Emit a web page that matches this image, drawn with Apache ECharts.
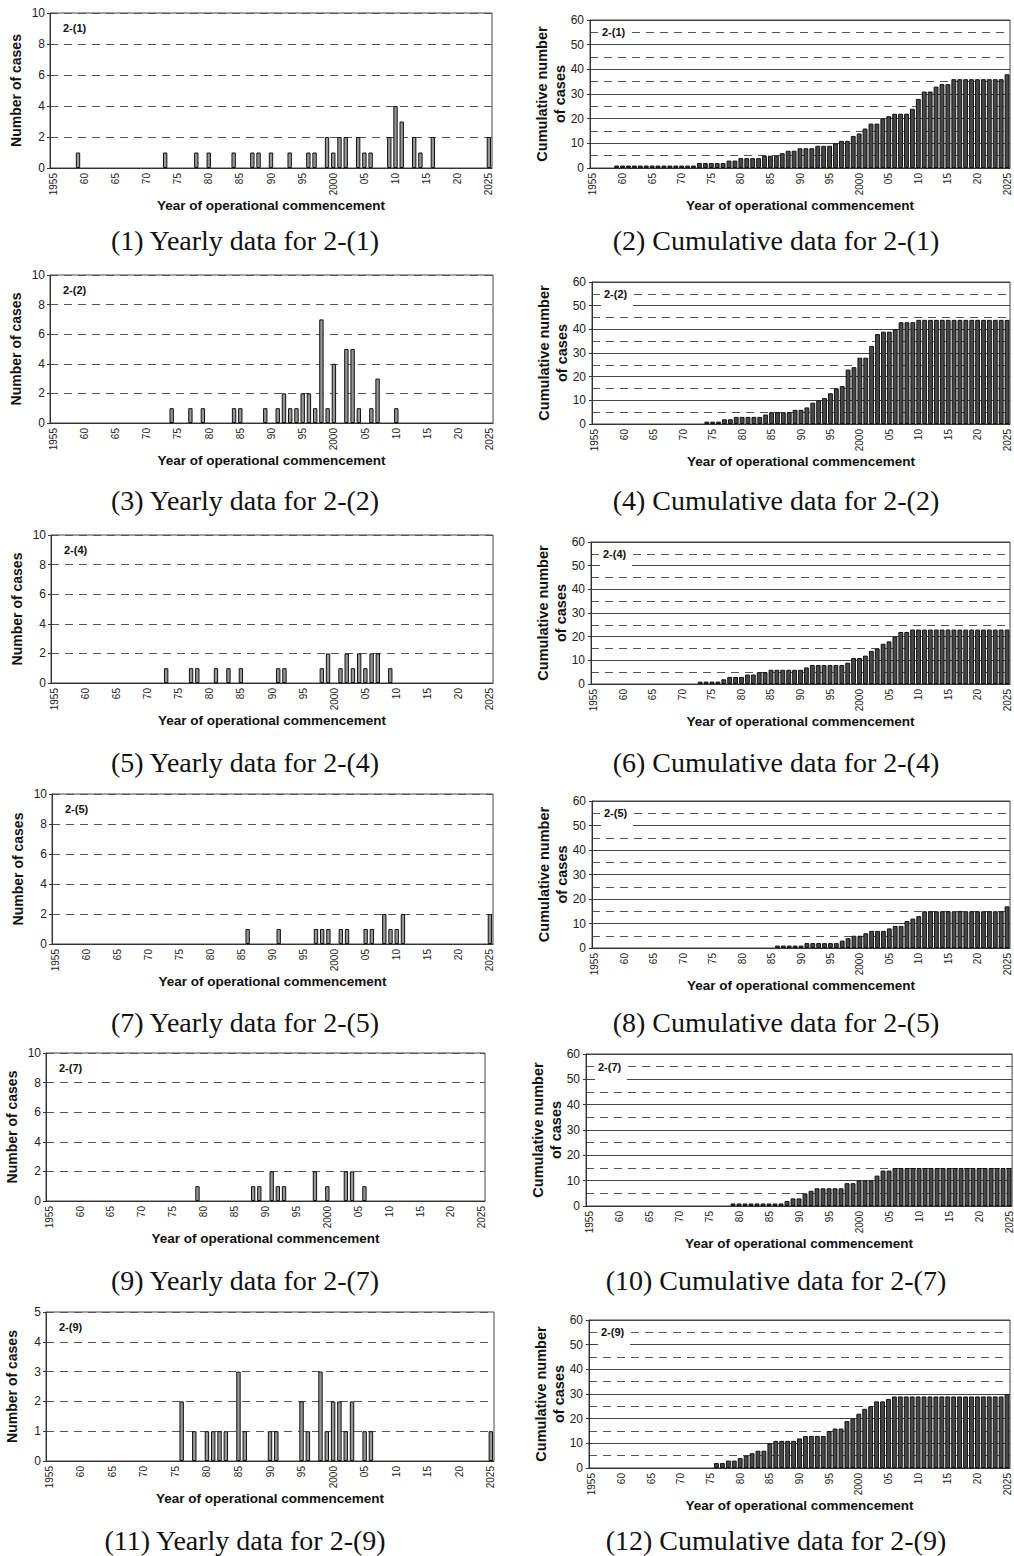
<!DOCTYPE html>
<html>
<head>
<meta charset="utf-8">
<script src="https://cdn.jsdelivr.net/npm/echarts@6/dist/echarts.min.js"></script>
<style>
  html, body { margin: 0; padding: 0; background: #fff; }
  #main { width: 1014px; height: 1556px; }
</style>
</head>
<body>
<div id="main"></div>
<script>
// x axis: one category per year
const firstYear = 1955;
const lastYear = 2025;
const tickLabels = ['1955', '60', '65', '70', '75', '80', '85', '90', '95', '2000', '05', '10', '15', '20', '2025'];

// yearly number of cases [year, count]
const cases21 = [[1959, 1], [1973, 1], [1978, 1], [1980, 1], [1984, 1], [1987, 1], [1988, 1], [1990, 1], [1993, 1], [1996, 1], [1997, 1], [1999, 2], [2000, 1], [2001, 2], [2002, 2], [2004, 2], [2005, 1], [2006, 1], [2009, 2], [2010, 4], [2011, 3], [2013, 2], [2014, 1], [2016, 2], [2025, 2]];
const cases22 = [[1974, 1], [1977, 1], [1979, 1], [1984, 1], [1985, 1], [1989, 1], [1991, 1], [1992, 2], [1993, 1], [1994, 1], [1995, 2], [1996, 2], [1997, 1], [1998, 7], [1999, 1], [2000, 4], [2002, 5], [2003, 5], [2004, 1], [2006, 1], [2007, 3], [2010, 1]];
const cases24 = [[1973, 1], [1977, 1], [1978, 1], [1981, 1], [1983, 1], [1985, 1], [1991, 1], [1992, 1], [1998, 1], [1999, 2], [2001, 1], [2002, 2], [2003, 1], [2004, 2], [2005, 1], [2006, 2], [2007, 2], [2009, 1]];
const cases25 = [[1986, 1], [1991, 1], [1997, 1], [1998, 1], [1999, 1], [2001, 1], [2002, 1], [2005, 1], [2006, 1], [2008, 2], [2009, 1], [2010, 1], [2011, 2], [2025, 2]];
const cases27 = [[1979, 1], [1988, 1], [1989, 1], [1991, 2], [1992, 1], [1993, 1], [1998, 2], [2000, 1], [2003, 2], [2004, 2], [2006, 1]];
const cases29 = [[1976, 2], [1978, 1], [1980, 1], [1981, 1], [1982, 1], [1983, 1], [1985, 3], [1986, 1], [1990, 1], [1991, 1], [1995, 2], [1996, 1], [1998, 3], [1999, 1], [2000, 2], [2001, 2], [2002, 1], [2003, 2], [2005, 1], [2006, 1], [2025, 1]];

const tags = ['2-(1)', '2-(2)', '2-(4)', '2-(5)', '2-(7)', '2-(9)'];
const yearlyMax = [10, 10, 10, 10, 10, 5];
const captionsLeft = ['(1) Yearly data for 2-(1)', '(3) Yearly data for 2-(2)', '(5) Yearly data for 2-(4)', '(7) Yearly data for 2-(5)', '(9) Yearly data for 2-(7)', '(11) Yearly data for 2-(9)'];
const captionsRight = ['(2) Cumulative data for 2-(1)', '(4) Cumulative data for 2-(2)', '(6) Cumulative data for 2-(4)', '(8) Cumulative data for 2-(5)', '(10) Cumulative data for 2-(7)', '(12) Cumulative data for 2-(9)'];
const allCases = [cases21, cases22, cases24, cases25, cases27, cases29];

// layout: [left, top, width, height] of each plot box
const boxLeft = [[50, 13, 442, 155], [50, 275, 443, 148], [51, 535, 442, 148], [52, 794, 441, 150], [46, 1053, 439, 148], [46, 1312, 448, 149]];
const boxRight = [[590, 20, 420, 148], [592, 282, 418, 142], [591, 542, 419, 142], [592, 801, 418, 147], [586, 1054, 436, 152], [589, 1320, 421, 148]];
const captionY = [240, 500, 762, 1022, 1280, 1540];

const years = [];
for (let y = firstYear; y <= lastYear; y++) years.push(String(y));

function yearlySeries(pairs) {
  const arr = years.map(() => null);
  pairs.forEach(([y, v]) => { arr[y - firstYear] = v; });
  return arr;
}
function cumulativeSeries(yearly) {
  let total = 0;
  return yearly.map((v) => {
    total += v || 0;
    return total > 0 ? total : null;
  });
}

const sans = '"Liberation Sans", Arial, sans-serif';
const serif = '"Liberation Serif", "Times New Roman", serif';

const grid = [], xAxis = [], yAxis = [], series = [], graphic = [];

function xAxisFor(g) {
  return {
    type: 'category', gridIndex: g, data: years,
    axisLine: { lineStyle: { color: '#333' } },
    axisTick: { inside: true, length: 3, interval: 0, lineStyle: { color: '#333' } },
    axisLabel: {
      interval: 4, rotate: 90, fontSize: 10, color: '#222', fontFamily: sans, margin: 5,
      formatter: (v, i) => (i % 5 === 0 ? tickLabels[i / 5] : '')
    },
    name: 'Year of operational commencement', nameLocation: 'middle', nameGap: 30,
    nameMoveOverlap: false,
    nameTextStyle: { fontWeight: 'bold', fontSize: 13.5, color: '#111', fontFamily: sans }
  };
}

allCases.forEach((pairs, i) => {
  const L = boxLeft[i], R = boxRight[i];
  const gl = 2 * i, gr = 2 * i + 1;
  const yearly = yearlySeries(pairs);
  const cumul = cumulativeSeries(yearly);

  [L, R].forEach((b) => {
    grid.push({ left: b[0], top: b[1], width: b[2], height: b[3], show: true, borderColor: '#444', borderWidth: 1 });
  });
  xAxis.push(xAxisFor(gl), xAxisFor(gr));

  yAxis.push({
    type: 'value', gridIndex: gl, min: 0, max: yearlyMax[i], interval: yearlyMax[i] / 5,
    axisLine: { show: true, lineStyle: { color: '#333' } },
    axisTick: { show: true, length: 3, lineStyle: { color: '#333' } },
    axisLabel: { fontSize: 12, color: '#222', fontFamily: sans, margin: 5 },
    splitLine: { show: true, lineStyle: { type: [8, 6], color: '#555' } },
    name: 'Number of cases', nameLocation: 'middle', nameGap: 27,
    nameMoveOverlap: false,
    nameTextStyle: { fontWeight: 'bold', fontSize: 14, color: '#111', fontFamily: sans }
  });
  yAxis.push({
    type: 'value', gridIndex: gr, min: 0, max: 60, interval: 10,
    axisLine: { show: true, lineStyle: { color: '#333' } },
    axisTick: { show: true, length: 3, lineStyle: { color: '#333' } },
    axisLabel: { fontSize: 12, color: '#222', fontFamily: sans, margin: 6 },
    splitLine: { show: true, lineStyle: { color: '#444' } },
    minorTick: { show: false, splitNumber: 2 },
    minorSplitLine: { show: true, lineStyle: { type: [8, 6], color: '#555' } },
    name: 'Cumulative number\nof cases', nameLocation: 'middle', nameGap: 21,
    nameMoveOverlap: false,
    nameTextStyle: { fontWeight: 'bold', fontSize: 14.5, lineHeight: 18, color: '#111', fontFamily: sans }
  });

  series.push({
    type: 'bar', xAxisIndex: gl, yAxisIndex: gl, data: yearly, barCategoryGap: '30%',
    itemStyle: { color: '#969696', borderColor: '#111', borderWidth: 1 }
  });
  series.push({
    type: 'bar', xAxisIndex: gr, yAxisIndex: gr, data: cumul, barCategoryGap: '18%',
    itemStyle: { color: '#484848', borderColor: '#111', borderWidth: 1 }
  });

  // panel tags
  graphic.push({
    type: 'text', x: L[0] + 13, y: L[1] + 15, z: 20,
    style: { text: tags[i], font: 'bold 11px ' + sans, fill: '#111', align: 'left', verticalAlign: 'middle' }
  });
  const y55 = R[1] + R[3] / 12, y50 = R[1] + R[3] / 6;
  graphic.push({
    type: 'rect', z: 19,
    shape: { x: R[0] + 9, y: y55 - 6, width: 32, height: i === 0 ? 12 : (y50 - y55) + 10 },
    style: { fill: '#fff' }
  });
  graphic.push({
    type: 'text', x: R[0] + 12, y: y55, z: 20,
    style: { text: tags[i], font: 'bold 11px ' + sans, fill: '#111', align: 'left', verticalAlign: 'middle' }
  });

  // captions
  graphic.push({
    type: 'text', x: 245, y: captionY[i], z: 20,
    style: { text: captionsLeft[i], font: '28px ' + serif, fill: '#111', align: 'center', verticalAlign: 'middle' }
  });
  graphic.push({
    type: 'text', x: 776, y: captionY[i], z: 20,
    style: { text: captionsRight[i], font: '28px ' + serif, fill: '#111', align: 'center', verticalAlign: 'middle' }
  });
});

const chart = echarts.init(document.getElementById('main'), null, { renderer: 'svg' });
chart.setOption({
  backgroundColor: '#fff',
  animation: false,
  grid: grid,
  xAxis: xAxis,
  yAxis: yAxis,
  series: series,
  graphic: graphic
});
</script>
</body>
</html>
